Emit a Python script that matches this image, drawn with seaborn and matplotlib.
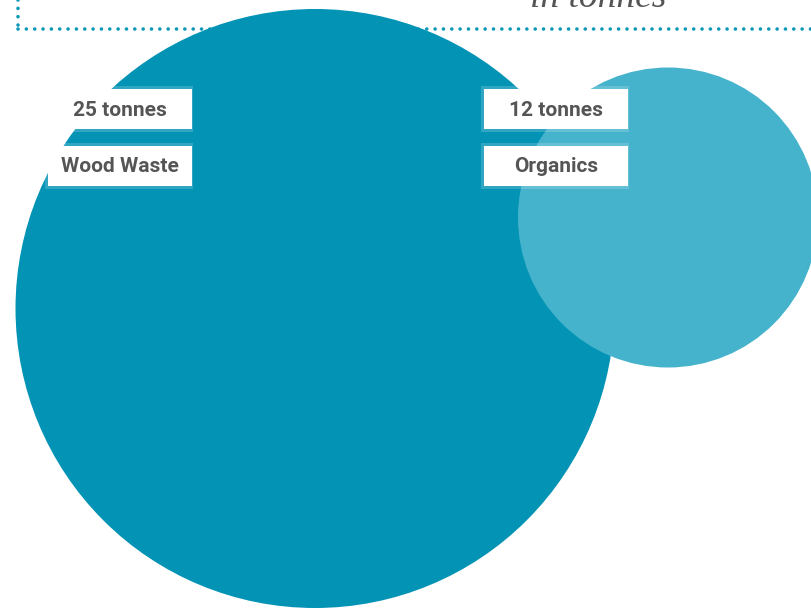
import numpy as np
import pandas as pd
import matplotlib.pyplot as plt
from matplotlib.patches import Rectangle
import seaborn as sns

# data
categories = ['Wood Waste', 'Organics']
tonnes = [25, 12]
value_labels = ['25 tonnes', '12 tonnes']
subtitle = 'in tonnes'

# layout / style (pixels, y grows downward)
W, H = 812, 609
centers_x = [315, 668]
centers_y = [308.5, 217.5]
radius_px = {25: 299.5, 12: 150}
colors = {'Wood Waste': '#0393b5', 'Organics': '#45b3cc'}
box_left = [48, 484]
box_w = 144
box_tops = [89, 146]
box_h = 40
text_color = '#555555'
dot_color = '#0d98b9'

sns.set_theme(style='white')
plt.rcParams['font.family'] = ['Roboto', 'DejaVu Sans']

fig = plt.figure(figsize=(W / 100, H / 100), dpi=100)
ax = fig.add_axes([0, 0, 1, 1])
ax.set_xlim(0, W)
ax.set_ylim(H, 0)
ax.set_axis_off()

df = pd.DataFrame({'category': categories, 'tonnes': tonnes,
                   'cx': centers_x, 'cy': centers_y})

# marker area in pt^2 from radius in px
sizes = {k: (2 * r * 72 / 100) ** 2 for k, r in radius_px.items()}

# dotted frame
dots = dict(color=dot_color, lw=2.6, linestyle=(0, (0.01, 2.3)),
            dash_capstyle='round', zorder=1)
ax.plot([18, W], [28.5, 28.5], **dots)
ax.plot([18, 18], [0, 28.5], **dots)

sns.scatterplot(data=df, x='cx', y='cy', hue='category', palette=colors,
                size='tonnes', sizes=sizes, legend=False, linewidth=0,
                alpha=1, ax=ax, zorder=2)

ax.text(598, 7, subtitle, ha='center', va='baseline', fontsize=27,
        style='italic', color='#555555', family=['Liberation Serif'],
        zorder=5)

for i in range(len(categories)):
    x0 = box_left[i]
    for j, txt in enumerate([value_labels[i], categories[i]]):
        y0 = box_tops[j]
        ax.add_patch(Rectangle((x0 - 3, y0 - 3), box_w + 4, box_h + 6,
                               facecolor=(1, 1, 1, 0.18), edgecolor='none',
                               zorder=3))
        ax.add_patch(Rectangle((x0, y0), box_w, box_h, facecolor='white',
                               edgecolor='none', zorder=4))
        ax.text(x0 + box_w / 2, y0 + box_h / 2 + 1, txt, ha='center',
                va='center', fontsize=15, fontweight='bold',
                color=text_color, zorder=5)

fig.savefig('out.png', dpi=100)
